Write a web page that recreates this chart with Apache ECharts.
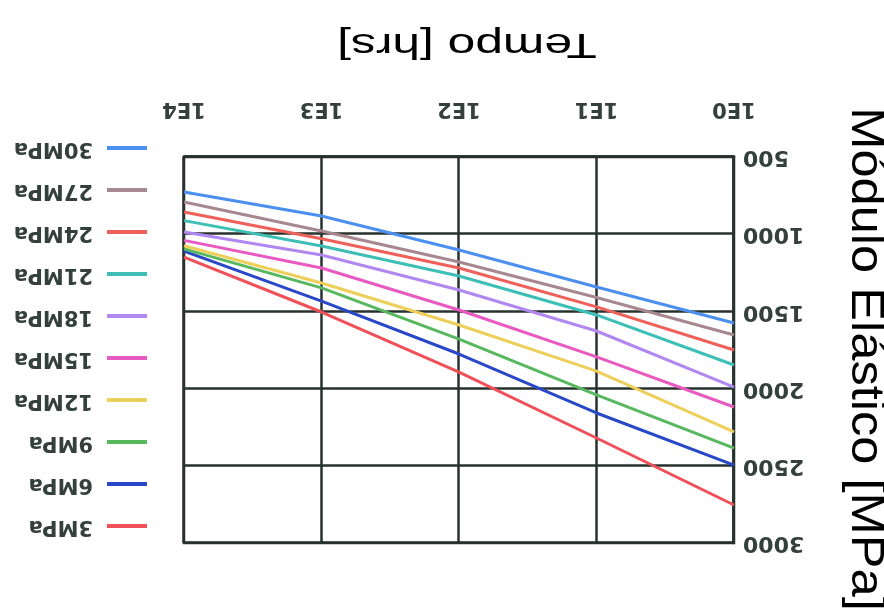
<!DOCTYPE html>
<html>
<head>
<meta charset="utf-8">
<script src="https://cdn.jsdelivr.net/npm/echarts@6/dist/echarts.min.js"></script>
<style>
  html, body { margin: 0; padding: 0; background: #ffffff; }
  /* the whole figure is presented turned half a revolution */
  #chart { width: 884px; height: 608px; transform: rotate(180deg); }
</style>
</head>
<body>
<div id="chart"></div>
<script>
// time axis (hours, log scale)
const times = [1, 10, 100, 1000, 10000];
const timeTickLabels = { 1: '1E0', 10: '1E1', 100: '1E2', 1000: '1E3', 10000: '1E4' };

// elastic modulus [MPa] for each load level, read at each decade of time
const seriesNames = ['3MPa', '6MPa', '9MPa', '12MPa', '15MPa', '18MPa', '21MPa', '24MPa', '27MPa', '30MPa'];
const mod3MPa  = [2754, 2320, 1893, 1504, 1148];
const mod6MPa  = [2495, 2158, 1776, 1433, 1110];
const mod9MPa  = [2385, 2040, 1679, 1348, 1095];
const mod12MPa = [2281, 1887, 1588, 1316, 1075];
const mod15MPa = [2119, 1795, 1491, 1219, 1040];
const mod18MPa = [1990, 1627, 1361, 1135, 986];
const mod21MPa = [1847, 1523, 1271, 1076, 912];
const mod24MPa = [1750, 1471, 1219, 1030, 856];
const mod27MPa = [1653, 1410, 1180, 979, 791];
const mod30MPa = [1575, 1342, 1102, 882, 727];

const seriesValues = [mod3MPa, mod6MPa, mod9MPa, mod12MPa, mod15MPa,
                      mod18MPa, mod21MPa, mod24MPa, mod27MPa, mod30MPa];
const seriesColors = ['#f05058', '#2848c8', '#58b860', '#eecf5a', '#e85ac0',
                      '#b088f0', '#3dbfb5', '#f0605a', '#a88890', '#4b8ff0'];

const gridColor = '#27322e';
const labelColor = '#34403c';
const GRID = { left: 150, top: 65, width: 550, height: 386 };

const chart = echarts.init(document.getElementById('chart'), null, { renderer: 'canvas' });

chart.setOption({
  backgroundColor: '#ffffff',
  animation: false,
  grid: Object.assign({ show: true, borderColor: gridColor, borderWidth: 2.5 }, GRID),
  legend: {
    orient: 'vertical',
    left: 732,
    top: 65,
    itemWidth: 40,
    itemHeight: 4,
    itemGap: 18,
    icon: 'rect',
    data: seriesNames,
    textStyle: {
      fontFamily: 'DejaVu Sans', fontWeight: 'bold', fontSize: 21,
      color: labelColor, lineHeight: 24, padding: [0, 0, 0, 9]
    }
  },
  xAxis: {
    type: 'log',
    logBase: 10,
    min: 1,
    max: 10000,
    axisLine: { show: true, lineStyle: { color: gridColor, width: 2.5 } },
    axisTick: { show: false },
    splitLine: { show: true, lineStyle: { color: gridColor, width: 2.5 } },
    axisLabel: {
      margin: 38,
      fontFamily: 'DejaVu Sans', fontWeight: 'bold', fontSize: 21, color: labelColor,
      formatter: v => timeTickLabels[v] || ''
    }
  },
  yAxis: {
    type: 'value',
    min: 500,
    max: 3000,
    interval: 500,
    axisLine: { show: true, lineStyle: { color: gridColor, width: 2.5 } },
    axisTick: { show: false },
    splitLine: { show: true, lineStyle: { color: gridColor, width: 2.5 } },
    axisLabel: {
      margin: 9,
      fontFamily: 'DejaVu Sans', fontWeight: 'bold', fontSize: 22, color: labelColor,
      formatter: v => String(v)
    }
  },
  graphic: [
    {
      type: 'text',
      x: 417, y: 564,
      scaleX: 1.42,
      style: {
        text: 'Tempo [hrs]',
        font: '35px "Liberation Sans", Arial, sans-serif',
        fill: '#000000',
        align: 'center',
        verticalAlign: 'middle'
      }
    },
    {
      type: 'text',
      x: 19, y: 249,
      rotation: Math.PI / 2,
      scaleX: 1.1,
      style: {
        text: 'Módulo Elástico [MPa]',
        font: '46px "Liberation Sans", Arial, sans-serif',
        fill: '#000000',
        align: 'center',
        verticalAlign: 'middle'
      }
    }
  ],
  series: seriesNames.map((name, i) => ({
    name: name,
    type: 'line',
    showSymbol: false,
    color: seriesColors[i],
    lineStyle: { width: 3, color: seriesColors[i] },
    data: times.map((t, j) => [t, seriesValues[i][j]])
  }))
});
</script>
</body>
</html>
